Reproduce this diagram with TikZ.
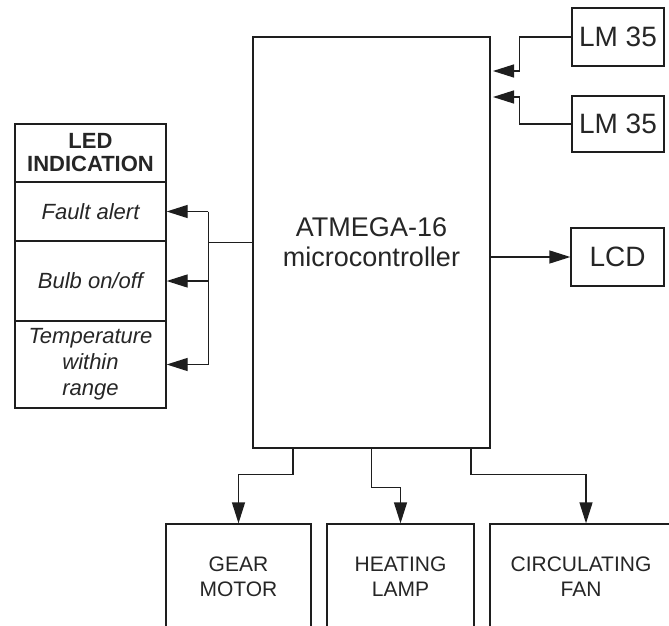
\documentclass[tikz,border=0pt]{standalone}
\usepackage{fontspec}
\setmainfont{Liberation Sans}
\usetikzlibrary{arrows.meta}
\definecolor{DiagLine}{HTML}{1E1E1E}
\definecolor{DiagText}{HTML}{262626}

\begin{document}
\begin{tikzpicture}[x=1pt,y=-1pt,
  blk/.style={draw=DiagLine,line width=1.3pt,text=DiagText,align=center,inner sep=0pt},
  wire/.style={draw=DiagLine,line width=1.3pt},
  arr/.style={wire,-{Triangle[length=21pt,width=13pt]}}]
\clip (0,0) rectangle (669,626);
\fill[white] (0,0) rectangle (669,626);
% controller
\node[blk,minimum width=237pt,minimum height=411pt,font=\fontsize{27}{30}\selectfont] (main) at (371.5,242.5) {ATMEGA-16\\microcontroller};
% sensors and display
\node[blk,minimum width=92pt,minimum height=58pt,font=\fontsize{28}{32}\selectfont] (lm1) at (618,37) {LM 35};
\node[blk,minimum width=92pt,minimum height=56pt,font=\fontsize{28}{32}\selectfont] (lm2) at (618,124) {LM 35};
\node[blk,minimum width=93pt,minimum height=58pt,font=\fontsize{28}{32}\selectfont] (lcd) at (617.5,257) {LCD};
\coordinate (in1) at (493,71);
\coordinate (in2) at (493,97);
% LED indication
\node[blk,minimum width=151pt,minimum height=58pt,font=\fontsize{22}{23}\selectfont\bfseries] (ledhead) at (90.5,153) {LED\\INDICATION};
\node[blk,minimum width=151pt,minimum height=59pt,font=\fontsize{22}{25}\selectfont\itshape] (fault) at (90.5,211.5) {Fault alert};
\node[blk,minimum width=151pt,minimum height=80pt,font=\fontsize{22}{25}\selectfont\itshape] (bulb) at (90.5,281) {Bulb on/off};
\node[blk,minimum width=151pt,minimum height=87pt,font=\fontsize{22}{26}\selectfont\itshape] (temp) at (90.5,364.5) {Temperature\\within\\range};
% outputs
\node[blk,minimum width=145pt,minimum height=106pt,font=\fontsize{21}{25}\selectfont] (gear) at (238.5,577) {GEAR\\MOTOR};
\node[blk,minimum width=147pt,minimum height=106pt,font=\fontsize{21}{25}\selectfont] (lamp) at (400.5,577) {HEATING\\LAMP};
\node[blk,minimum width=182pt,minimum height=106pt,font=\fontsize{21}{25}\selectfont] (fan) at (581,577) {CIRCULATING\\FAN};
% connectors
\draw[arr] (lm1.west) -- ++(-52,0) |- (in1);
\draw[arr] (lm2.west) -- ++(-52,0) |- (in2);
\draw[arr] (main.east |- lcd.west) -- (lcd.west);
\draw[wire] (main.west) -- ++(-44,0) coordinate (bus);
\draw[wire] (bus |- fault.east) -- (bus |- temp.east);
\draw[arr] (bus |- fault.east) -- (fault.east);
\draw[arr] (bus |- bulb.east) -- (bulb.east);
\draw[arr] (bus |- temp.east) -- (temp.east);
\draw[arr] ([xshift=-78.5pt]main.south) -- ++(0,26) -| (gear.north);
\draw[arr] (main.south) -- ++(0,39) -| (lamp.north);
\draw[arr] ([xshift=99.5pt]main.south) -- ++(0,26) -| ([xshift=5pt]fan.north);
\end{tikzpicture}
\end{document}
